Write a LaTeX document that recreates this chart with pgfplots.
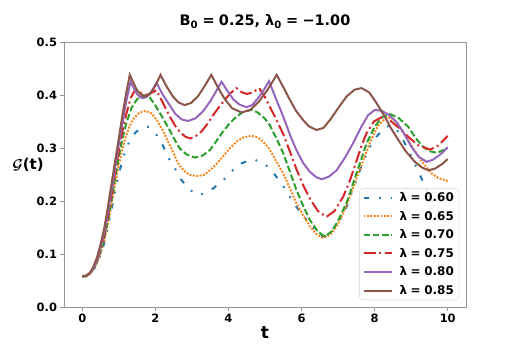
\documentclass[border=0pt]{standalone}
\usepackage{fontspec}
\setmainfont{DejaVu Sans}
\usepackage{pgfplots}
\pgfplotsset{compat=1.18}

\definecolor{tabblue}{HTML}{1F77B4}
\definecolor{taborange}{HTML}{FF7F0E}
\definecolor{tabgreen}{HTML}{2CA02C}
\definecolor{tabred}{HTML}{D62728}
\definecolor{tabpurple}{HTML}{9467BD}
\definecolor{tabbrown}{HTML}{8C564B}
\definecolor{spinegray}{RGB}{150,150,150}
\definecolor{legendgray}{RGB}{210,210,210}

\newcommand{\eq}{\hspace{0.3em}=\hspace{0.3em}}

\begin{document}
\begin{tikzpicture}
\begin{axis}[
  scale only axis,
  width=402bp, height=265bp,
  xmin=-0.5, xmax=10.5,
  ymin=0, ymax=0.5,
  xtick={0,2,4,6,8,10},
  ytick={0,0.1,0.2,0.3,0.4,0.5},
  yticklabel style={/pgf/number format/.cd, fixed, fixed zerofill, precision=1},
  /pgf/number format/assume math mode=true,
  tick label style={font=\fontsize{11.5}{13}\selectfont\bfseries},
  tick align=outside,
  major tick length=3.5bp,
  tick style={spinegray, line width=0.8bp},
  axis line style={spinegray, line width=0.8bp},
  xtick pos=bottom, ytick pos=left,
  title={\fontsize{14.5}{17}\selectfont\bfseries B\textsubscript{0}\eq0.25, λ\textsubscript{0}\eq−1.00},
  title style={at={(axis description cs:0.5,1.055)}, anchor=center},
  xlabel={\fontsize{17}{20}\selectfont\bfseries t},
  xlabel style={at={(axis description cs:0.5,-0.098)}, anchor=center},
  ylabel={\fontsize{15}{17}\selectfont\bfseries{\boldmath$\mathcal{G}$}(t)},
  ylabel style={at={(axis description cs:-0.0896,0.535)}, anchor=center, rotate=-90},
  legend cell align=left,
  legend style={at={(axis description cs:1,0)}, anchor=south east,
    xshift=-7bp, yshift=7bp, draw=legendgray, rounded corners=3bp,
    fill=white, fill opacity=0.8, text opacity=1, draw opacity=1,
    font=\fontsize{12}{14}\selectfont\bfseries, row sep=4bp,
    /tikz/every odd column/.append style={column sep=5bp}},
  legend image code/.code={\draw[#1, line width=2bp] (0bp,0bp) -- (28bp,0bp);},
  every axis plot/.append style={line width=2bp},
]
% lambda = 0.60
\addplot[tabblue, dash pattern=on 5.5bp off 10bp on 1.8bp off 10bp on 1.8bp off 10bp] coordinates {
(0,0.058)(0.1,0.058)(0.2,0.061)(0.3,0.069)(0.4,0.081)(0.5,0.098)(0.6,0.120)(0.7,0.150)
(0.8,0.184)(0.9,0.219)(1.0,0.251)(1.1,0.277)(1.2,0.298)(1.3,0.314)(1.45,0.329)(1.6,0.337)
(1.79,0.340)(2.03,0.325)(2.21,0.304)(2.36,0.281)(2.53,0.262)
(2.71,0.240)(2.94,0.221)(3.21,0.211)(3.53,0.221)(3.84,0.238)(4.04,0.253)(4.31,0.270)
(4.67,0.279)(4.98,0.271)(5.22,0.254)(5.45,0.233)(5.63,0.214)(5.82,0.192)(6.04,0.174)
(6.23,0.155)(6.5,0.135)(6.65,0.133)(6.87,0.148)(7.05,0.165)(7.23,0.189)(7.45,0.230)
(7.65,0.268)(7.85,0.300)(8.05,0.321)(8.28,0.340)(8.45,0.342)(8.6,0.335)(8.78,0.315)
(9.0,0.285)(9.24,0.249)(9.4,0.225)(9.6,0.195)(9.8,0.175)(10.0,0.165)
};
\addlegendentry{λ\eq0.60}
% lambda = 0.65
\addplot[taborange, dash pattern=on 1.8bp off 1.6bp] coordinates {
(0,0.058)(0.1,0.058)(0.2,0.062)(0.3,0.070)(0.4,0.083)(0.5,0.101)(0.6,0.125)(0.7,0.157)
(0.8,0.193)(0.9,0.232)(1.0,0.268)(1.1,0.299)(1.2,0.324)(1.3,0.342)(1.4,0.355)
(1.55,0.366)(1.73,0.370)(1.9,0.365)(2.05,0.352)(2.2,0.333)(2.39,0.306)(2.55,0.282)
(2.67,0.266)(2.8,0.256)(2.94,0.249)(3.17,0.247)(3.35,0.250)(3.49,0.258)(3.65,0.268)
(3.85,0.284)(4.05,0.300)(4.22,0.312)(4.4,0.320)(4.63,0.323)(4.8,0.320)(4.95,0.312)
(5.1,0.300)(5.22,0.286)(5.35,0.270)(5.5,0.252)(5.68,0.224)(5.86,0.196)(6.05,0.172)
(6.23,0.152)(6.4,0.138)(6.59,0.130)(6.78,0.136)(6.96,0.152)(7.15,0.178)(7.32,0.208)
(7.5,0.242)(7.69,0.277)(7.9,0.315)(8.1,0.343)(8.33,0.358)(8.5,0.355)(8.7,0.338)
(8.92,0.315)(9.05,0.300)(9.2,0.284)(9.4,0.265)(9.56,0.252)(9.75,0.243)(10.0,0.238)
};
\addlegendentry{λ\eq0.65}
% lambda = 0.70
\addplot[tabgreen, dash pattern=on 6.5bp off 2.8bp] coordinates {
(0,0.058)(0.1,0.058)(0.2,0.062)(0.3,0.071)(0.4,0.085)(0.5,0.104)(0.6,0.130)(0.7,0.163)
(0.8,0.201)(0.9,0.244)(1.0,0.283)(1.1,0.318)(1.2,0.346)(1.35,0.376)
(1.5,0.392)(1.68,0.400)(1.85,0.395)(2.0,0.380)(2.2,0.357)(2.39,0.334)(2.55,0.313)
(2.67,0.299)(2.85,0.288)(3.08,0.282)(3.3,0.286)(3.49,0.296)(3.65,0.311)(3.85,0.331)
(4.05,0.348)(4.22,0.359)(4.4,0.368)(4.63,0.372)(4.8,0.367)(4.99,0.356)(5.13,0.343)
(5.3,0.320)(5.5,0.290)(5.7,0.252)(5.86,0.221)(6.05,0.190)(6.23,0.164)(6.45,0.142)
(6.64,0.133)(6.85,0.144)(7.05,0.170)(7.25,0.200)(7.41,0.233)(7.6,0.272)(7.78,0.309)
(8.0,0.340)(8.2,0.358)(8.42,0.364)(8.65,0.357)(8.92,0.340)(9.13,0.318)(9.33,0.302)
(9.5,0.294)(9.7,0.291)(9.85,0.295)(10.0,0.301)
};
\addlegendentry{λ\eq0.70}
% lambda = 0.75
\addplot[tabred, dash pattern=on 12bp off 3.5bp on 2bp off 3.5bp] coordinates {
(0,0.058)(0.1,0.059)(0.2,0.063)(0.3,0.072)(0.4,0.087)(0.5,0.108)(0.6,0.135)(0.7,0.170)
(0.8,0.210)(0.9,0.254)(1.0,0.295)(1.1,0.332)(1.2,0.363)(1.33,0.395)
(1.45,0.410)(1.6,0.404)(1.75,0.400)(1.9,0.404)(2.03,0.409)(2.2,0.386)(2.39,0.360)
(2.55,0.341)(2.7,0.328)(2.83,0.321)(2.96,0.318)(3.1,0.322)(3.26,0.331)(3.42,0.345)
(3.58,0.362)(3.75,0.378)(3.9,0.391)(4.05,0.403)(4.22,0.413)(4.37,0.405)(4.51,0.402)
(4.67,0.405)(4.84,0.413)(5.0,0.396)(5.13,0.378)(5.3,0.355)(5.5,0.326)(5.7,0.290)
(5.86,0.260)(6.05,0.229)(6.23,0.204)(6.45,0.181)(6.68,0.170)(6.9,0.181)(7.14,0.208)
(7.32,0.238)(7.51,0.277)(7.65,0.306)(7.78,0.328)(7.98,0.350)(8.19,0.358)(8.4,0.353)
(8.65,0.339)(8.92,0.321)(9.2,0.305)(9.52,0.297)(9.75,0.305)(10.0,0.323)
};
\addlegendentry{λ\eq0.75}
% lambda = 0.80
\addplot[tabpurple] coordinates {
(0,0.058)(0.1,0.059)(0.2,0.063)(0.3,0.073)(0.4,0.089)(0.5,0.112)(0.6,0.141)(0.7,0.178)
(0.8,0.221)(0.9,0.265)(1.0,0.307)(1.1,0.348)(1.2,0.387)(1.32,0.425)
(1.41,0.413)(1.5,0.402)(1.58,0.396)(1.66,0.394)(1.75,0.396)(1.85,0.403)(1.94,0.412)
(2.03,0.423)(2.2,0.401)(2.39,0.381)(2.55,0.364)(2.72,0.354)(2.89,0.351)(3.1,0.356)
(3.3,0.369)(3.5,0.388)(3.67,0.408)(3.81,0.425)(3.95,0.410)(4.13,0.392)(4.3,0.382)
(4.49,0.377)(4.65,0.381)(4.81,0.394)(4.97,0.410)(5.11,0.426)(5.3,0.393)(5.5,0.359)
(5.7,0.322)(5.86,0.296)(6.05,0.271)(6.23,0.255)(6.4,0.245)(6.55,0.241)(6.75,0.246)
(6.96,0.258)(7.2,0.283)(7.41,0.309)(7.62,0.338)(7.82,0.362)(8.01,0.372)(8.2,0.370)
(8.4,0.362)(8.6,0.349)(8.8,0.328)(9.0,0.303)(9.2,0.284)(9.42,0.274)(9.6,0.278)
(9.8,0.288)(10.0,0.301)
};
\addlegendentry{λ\eq0.80}
% lambda = 0.85
\addplot[tabbrown] coordinates {
(0,0.058)(0.1,0.059)(0.2,0.064)(0.3,0.075)(0.4,0.093)(0.5,0.118)(0.6,0.148)(0.7,0.188)
(0.8,0.232)(0.9,0.276)(1.0,0.318)(1.1,0.362)(1.2,0.403)(1.30,0.438)
(1.40,0.423)(1.50,0.409)(1.60,0.401)(1.71,0.397)(1.82,0.400)(1.93,0.409)(2.04,0.423)
(2.14,0.438)(2.30,0.417)(2.47,0.398)(2.63,0.386)(2.80,0.381)(2.98,0.385)(3.17,0.398)
(3.35,0.417)(3.53,0.438)(3.73,0.412)(3.90,0.392)(4.10,0.375)(4.36,0.367)(4.60,0.372)
(4.84,0.388)(5.08,0.411)(5.32,0.438)(5.5,0.415)(5.68,0.391)(5.85,0.370)(6.04,0.353)
(6.2,0.341)(6.41,0.334)(6.6,0.338)(6.78,0.353)(7.0,0.375)(7.23,0.397)(7.45,0.410)
(7.64,0.413)(7.85,0.405)(8.05,0.385)(8.28,0.359)(8.45,0.337)(8.65,0.315)(8.85,0.294)
(9.1,0.274)(9.3,0.263)(9.47,0.258)(9.65,0.261)(9.85,0.270)(10.0,0.279)
};
\addlegendentry{λ\eq0.85}
\end{axis}
\path (-64bp,-38bp) rectangle (454bp,307bp);
\end{tikzpicture}
\end{document}
